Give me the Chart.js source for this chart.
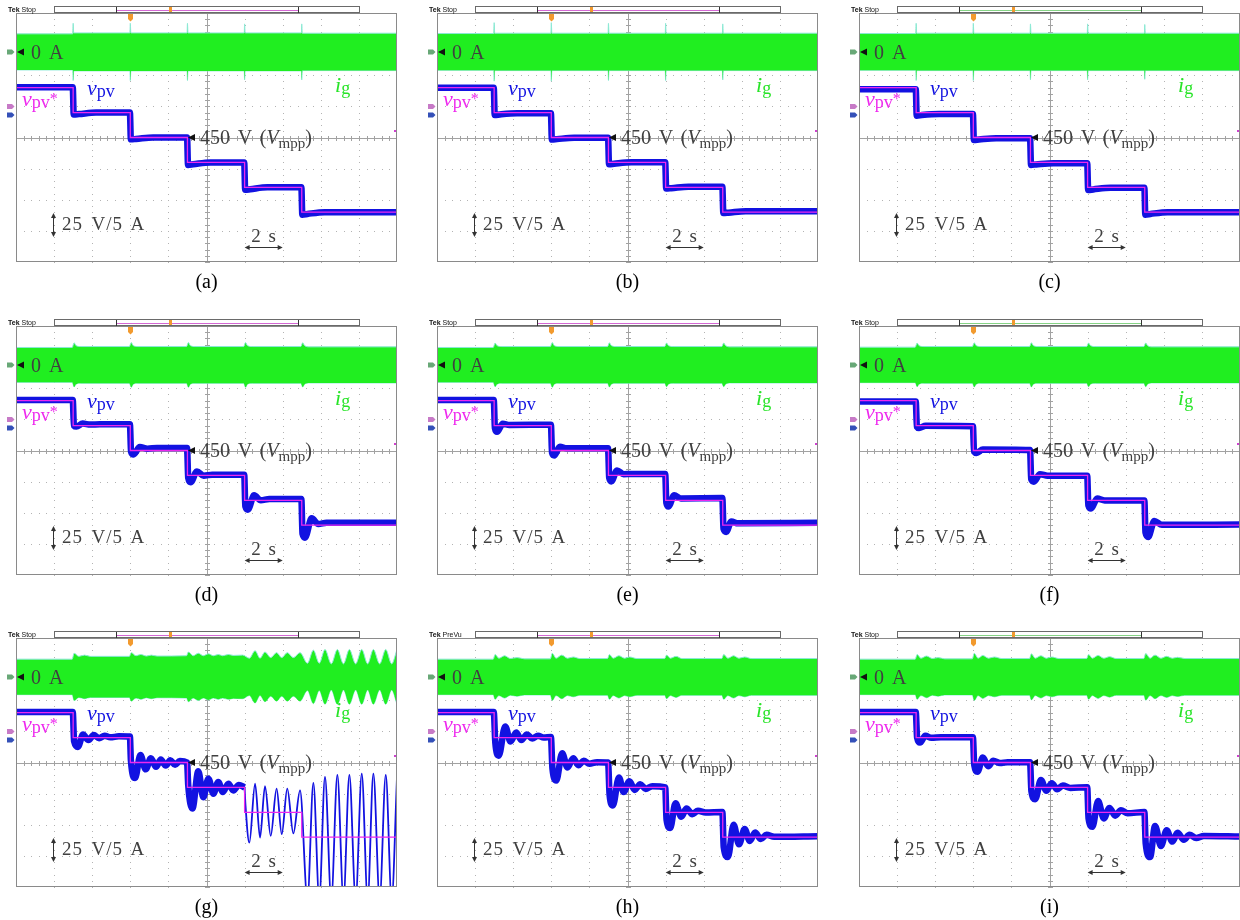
<!DOCTYPE html>
<html><head><meta charset="utf-8">
<script src="https://cdn.jsdelivr.net/npm/chart.js"></script>
<style>
html,body{margin:0;padding:0;background:#fff;}
#wrap{position:relative;width:1240px;height:920px;overflow:hidden;background:#fff;}
.panel{position:absolute;width:395px;height:300px;}
.panel canvas{position:absolute;left:0;top:0;}
.t{position:absolute;white-space:nowrap;font-family:"Liberation Serif","Times New Roman",serif;}
.tek{position:absolute;white-space:nowrap;font-family:"Liberation Sans",Arial,sans-serif;font-size:7px;line-height:7px;color:#111;}
</style></head><body><div id="wrap"></div>
<script>
// ---------------- DATA (time in s, voltage in V, current in A) ----------------
const panelLetters = ['a','b','c','d','e','f','g','h','i'];
const tekStatus = ['Stop','Stop','Stop','Stop','Stop','Stop','Stop','PreVu','Stop'];
const refSteps = [[0,490],[3,470],[6,450],[9,430],[12,410],[15,390],[20,390]];

const vpvA = [[0,490.3],[2.98,490.3],[3.03,468.5],[3.3,468.8],[4.2,470],[5.98,470],[6.03,448.5],[6.3,448.8],[7.2,450],[8.98,450],[9.03,428],[9.3,428.5],[10.2,430],[11.98,430],[12.03,408],[12.3,408.5],[13.2,410],[14.98,410],[15.03,388],[15.3,388.6],[16.2,390],[20,390]];
const vpvB = [[0,489.9],[2.98,489.9],[3.03,468],[3.3,468.5],[4.2,469.4],[5.98,469.4],[6.03,448.3],[6.3,448.7],[7.2,449.8],[8.98,449.8],[9.03,428.5],[9.3,429],[10.2,430.2],[11.98,430.2],[12.03,409],[12.3,409.3],[13.2,410.5],[14.98,410.5],[15.03,389.3],[15.3,389.6],[16.2,390.8],[20,390.8]];
const vpvC = [[0,488.8],[2.98,488.8],[3.03,467.5],[3.3,468],[4.2,468.8],[5.98,468.8],[6.03,448],[6.3,448.4],[7.2,449.4],[8.98,449.4],[9.03,428],[9.3,428.4],[10.2,429.4],[11.98,429.4],[12.03,407.8],[12.3,408.3],[13.2,409.6],[14.98,409.6],[15.03,388],[15.3,388.6],[16.2,390],[20,390]];
const vpvD = [[0,490.5],[2.98,490.5],[3.04,470],[3.17,469.2],[3.5,471.6],[3.9,470.8],[4.4,471],[5.98,471],[6.04,449],[6.17,446.8],[6.5,452.8],[6.9,451.5],[7.4,452],[8.98,452],[9.04,428],[9.17,424.5],[9.5,433.2],[9.85,429.8],[10.3,430.6],[11.98,430.6],[12.04,405],[12.17,402.5],[12.5,414],[12.85,410],[13.3,411],[14.98,411],[15.04,383],[15.17,380],[15.52,395.5],[15.87,391],[16.3,392],[20,392]];
const vpvE = [[0,490.5],[2.98,490.5],[3.04,468],[3.15,465],[3.45,471.5],[3.8,470.5],[5.98,470.7],[6.04,448],[6.15,446],[6.45,453],[6.8,451.8],[8.98,451.9],[9.04,428],[9.15,425.2],[9.45,434],[9.8,431],[10.2,431.2],[11.98,431.2],[12.04,408],[12.15,405],[12.45,414],[12.8,411.5],[14.98,411.8],[15.04,387],[15.18,384.6],[15.45,393],[15.8,391.5],[20,391.9]];
const vpvF = [[0,489.3],[2.98,489.3],[3.04,469],[3.15,468],[3.5,469.8],[5.98,469.5],[6.04,449],[6.17,448],[6.5,450.8],[8.98,450.4],[9.04,427],[9.18,425],[9.5,431],[9.9,429.8],[11.98,429.8],[12.04,406],[12.18,403.4],[12.5,411.4],[12.9,409.9],[14.98,409.9],[15.04,384],[15.18,380.5],[15.5,393.3],[15.9,390.3],[20,390.5]];
const vpvG = [[0,490.5],[2.98,490.5],[3.05,467],[3.25,462.5],[3.52,472.5],[3.8,468],[4.08,472],[4.36,469.5],[4.65,471.5],[4.95,470.2],[5.4,471],[5.98,470.8],[6.03,452],[6.25,437.5],[6.53,456],[6.81,444.5],[7.08,453.5],[7.35,446.5],[7.6,452.5],[7.86,447.5],[8.1,451.8],[8.35,448.2],[8.6,451.2],[8.98,450],[9.04,432],[9.26,413],[9.57,443],[9.83,422],[10.1,437],[10.36,425],[10.62,434.4],[10.85,426.3],[11.15,433],[11.41,427.6],[11.7,432],[12.0,430]];
const vpvGUnstable = [[12.0,430],[12.05,415],[12.25,385.6],[12.55,433],[12.81,389.7],[13.07,431],[13.37,391],[13.68,429],[13.95,392.4],[14.24,429],[14.56,393],[14.91,427.6],[15.3,340],[15.61,433.6],[15.92,340],[16.22,438.5],[16.55,340],[16.87,440],[17.19,340],[17.5,440],[17.83,340],[18.15,441],[18.46,340],[18.76,441],[19.09,340],[19.41,440],[19.72,340],[20,438]];
const vpvH = [[0,490.5],[2.98,490.5],[3.06,466],[3.24,455.5],[3.58,479],[3.86,466.8],[4.16,474],[4.43,468],[4.72,472.5],[5.0,469.3],[5.3,471.5],[5.6,470],[5.98,470.5],[6.06,445],[6.26,435.5],[6.57,457.5],[6.85,446],[7.15,453.5],[7.42,447.8],[7.7,451.5],[8.0,449],[8.4,450.3],[8.98,450],[9.06,424],[9.23,415.5],[9.55,438],[9.8,426.3],[10.1,435],[10.38,428],[10.67,432.5],[10.95,428.8],[11.3,431],[11.98,430],[12.05,404],[12.24,397.3],[12.52,417.3],[12.82,406.5],[13.1,413],[13.4,408.5],[13.7,411.2],[14.1,409.8],[14.98,410.3],[15.05,382],[15.27,374],[15.57,400],[15.85,384.3],[16.15,396.5],[16.42,387],[16.7,393.7],[17.0,388.5],[17.3,392],[17.7,390.3],[20,390.8]];
const vpvI = [[0,490.5],[2.98,490.5],[3.05,470],[3.2,466],[3.48,471.5],[3.8,469.8],[4.3,470.3],[5.98,470.2],[6.05,448],[6.22,442.5],[6.5,454],[6.78,447],[7.05,451.5],[7.4,449.5],[7.8,450.3],[8.98,450.2],[9.05,427],[9.25,420.5],[9.55,436],[9.83,427.3],[10.12,433.3],[10.4,428.5],[10.7,431.5],[11.1,429.6],[11.98,430.2],[12.05,405],[12.25,398.3],[12.55,419],[12.85,405.1],[13.15,413.5],[13.45,407.3],[13.75,411.6],[14.1,409.2],[14.98,410.3],[15.05,385],[15.28,374],[15.54,399],[15.85,383],[16.15,395.5],[16.45,386.5],[16.72,393.5],[17.05,388],[17.35,392],[17.7,389.3],[18.1,391],[20,390.5]];

// grid current envelope amplitude (A), band = +/- amplitude
const igA = [[0,2.9],[2.98,2.9],[3.0,4.6],[3.03,3.05],[5.98,3.05],[6.0,4.6],[6.03,3.05],[8.98,3.05],[9.0,4.6],[9.03,3.05],[11.98,3.05],[12.0,4.5],[12.03,3.05],[14.98,3.05],[15.0,4.5],[15.03,3.0],[20,3.0]];
const igB = [[0,2.95],[2.98,2.95],[3.0,4.7],[3.03,3.0],[5.98,3.0],[6.0,4.7],[6.03,3.0],[8.98,3.0],[9.0,4.6],[9.03,3.0],[11.98,3.0],[12.0,4.6],[12.03,3.0],[14.98,3.0],[15.0,4.5],[15.03,3.0],[20,3.0]];
const igC = [[0,2.95],[2.98,2.95],[3.0,4.6],[3.03,3.0],[5.98,3.0],[6.0,4.6],[6.03,3.0],[8.98,3.0],[9.0,4.5],[9.03,3.0],[11.98,3.0],[12.0,4.5],[12.03,3.0],[14.98,3.0],[15.0,4.4],[15.03,3.0],[20,3.0]];
const igD = [[0,2.8],[2.95,2.8],[3.05,3.55],[3.15,3.1],[3.4,2.95],[5.95,2.95],[6.05,3.6],[6.15,3.1],[6.4,2.95],[8.95,2.95],[9.05,3.6],[9.15,3.1],[9.4,2.95],[11.95,2.95],[12.05,3.6],[12.15,3.1],[12.4,2.95],[14.95,2.95],[15.05,3.55],[15.15,3.1],[15.4,2.9],[20,2.9]];
const igE = [[0,2.8],[2.95,2.8],[3.05,3.5],[3.15,3.1],[3.4,2.95],[5.95,2.95],[6.05,3.6],[6.15,3.1],[6.4,2.95],[8.95,2.95],[9.05,3.55],[9.15,3.1],[9.4,2.95],[11.95,2.95],[12.05,3.5],[12.15,3.1],[12.4,2.95],[14.95,2.95],[15.05,3.5],[15.15,3.1],[15.4,2.9],[20,2.9]];
const igF = [[0,2.85],[2.95,2.85],[3.05,3.5],[3.15,3.1],[3.4,2.95],[5.95,2.95],[6.05,3.55],[6.15,3.1],[6.4,2.95],[8.95,2.95],[9.05,3.55],[9.15,3.1],[9.4,2.95],[11.95,2.95],[12.05,3.5],[12.15,3.1],[12.4,2.95],[14.95,2.95],[15.05,3.5],[15.15,3.1],[15.4,2.9],[20,2.9]];
const igG = [[0,2.85],[2.95,2.85],[3.05,3.8],[3.3,3.3],[3.6,3.5],[3.9,3.3],[5.95,3.3],[6.05,3.9],[6.3,3.4],[6.55,3.6],[6.85,3.35],[7.1,3.5],[7.4,3.35],[8.95,3.4],[9.05,4.0],[9.3,3.4],[9.57,3.8],[9.83,3.4],[10.1,3.7],[10.36,3.4],[10.62,3.6],[10.85,3.4],[11.15,3.6],[11.41,3.45],[11.9,3.5],[12.25,3.0],[12.55,4.2],[12.81,3.0],[13.07,4.0],[13.37,3.1],[13.68,3.9],[13.95,3.1],[14.24,3.9],[14.56,3.1],[14.91,3.9],[15.3,2.2],[15.61,4.3],[15.92,2.2],[16.22,4.4],[16.55,2.1],[16.87,4.4],[17.19,2.1],[17.5,4.4],[17.83,2.1],[18.15,4.4],[18.46,2.1],[18.76,4.4],[19.09,2.1],[19.41,4.4],[19.72,2.1],[20,4.4]];
const igH = [[0,2.85],[2.95,2.85],[3.05,3.6],[3.25,3.0],[3.55,3.4],[3.85,2.95],[4.2,3.1],[4.6,2.9],[5.95,2.9],[6.05,3.8],[6.25,3.0],[6.55,3.5],[6.85,3.0],[7.15,3.2],[7.5,2.95],[8.95,2.95],[9.05,3.6],[9.25,3.0],[9.55,3.4],[9.85,3.0],[10.1,3.2],[10.5,2.95],[11.95,2.95],[12.05,3.5],[12.25,3.0],[12.55,3.3],[12.85,2.95],[14.95,2.95],[15.05,3.6],[15.27,3.0],[15.57,3.4],[15.85,3.0],[16.15,3.2],[16.5,2.95],[20,2.95]];
const igI = [[0,2.85],[2.95,2.85],[3.05,3.6],[3.25,3.0],[3.55,3.35],[3.85,2.95],[4.15,3.1],[4.5,2.9],[5.95,2.9],[6.05,3.8],[6.25,3.0],[6.5,3.45],[6.8,3.0],[7.1,3.2],[7.5,2.95],[8.95,2.95],[9.05,3.7],[9.25,3.0],[9.55,3.4],[9.83,3.0],[10.12,3.2],[10.5,2.95],[11.95,2.95],[12.05,3.6],[12.25,3.0],[12.55,3.45],[12.85,3.0],[13.15,3.25],[13.5,2.95],[14.95,2.95],[15.05,3.75],[15.28,3.0],[15.54,3.5],[15.85,3.0],[16.15,3.3],[16.45,3.0],[16.72,3.15],[17.1,2.95],[20,2.95]];

// ---------------- LAYOUT / STYLE ----------------
const PADL = 14, PADT = 12;
const colL = [16, 437, 859], rowT = [13, 326, 638];
const GREEN = 'rgb(32,238,32)', GREEN_EDGE = 'rgb(140,232,215)';
const BLUE = 'rgb(18,18,225)', MAGENTA = 'rgb(238,40,238)';
const GRAY_TXT = '#404040';
const BAR_PINK = '#d468d4', BAR_GREEN = '#86d486';

const panels = [
  {vpv: vpvA, ig: igA, bar: BAR_PINK}, {vpv: vpvB, ig: igB, bar: BAR_PINK}, {vpv: vpvC, ig: igC, bar: BAR_GREEN},
  {vpv: vpvD, ig: igD, bar: BAR_PINK}, {vpv: vpvE, ig: igE, bar: BAR_PINK}, {vpv: vpvF, ig: igF, bar: BAR_GREEN},
  {vpv: vpvG, thin: vpvGUnstable, ig: igG, bar: BAR_PINK}, {vpv: vpvH, ig: igH, bar: BAR_PINK}, {vpv: vpvI, ig: igI, bar: BAR_GREEN}
];

function tri(ctx, pts) { ctx.beginPath(); ctx.moveTo(pts[0][0], pts[0][1]); for (let i = 1; i < pts.length; i++) ctx.lineTo(pts[i][0], pts[i][1]); ctx.closePath(); ctx.fill(); }

const scopePlugin = {
  id: 'scope',
  beforeDatasetsDraw(chart) {
    const {ctx, chartArea: a, scales: {x, y}} = chart;
    ctx.save();
    ctx.fillStyle = '#b3b3b3';
    for (let i = 1; i < 10; i++) {
      if (i === 5) continue;
      const px = Math.round(x.getPixelForValue(2 * i));
      for (let j = 0; j <= 40; j++) ctx.fillRect(px, Math.round(y.getPixelForValue(350 + j * 5)), 1, 1);
    }
    for (let k = 1; k < 8; k++) {
      if (k === 4) continue;
      const py = Math.round(y.getPixelForValue(350 + 25 * k));
      for (let j = 0; j <= 50; j++) ctx.fillRect(Math.round(x.getPixelForValue(j * 0.4)), py, 1, 1);
    }
    ctx.fillStyle = '#a2a2a2';
    const cx = Math.round(x.getPixelForValue(10)), cy = Math.round(y.getPixelForValue(450));
    ctx.fillRect(cx, a.top, 1, a.bottom - a.top);
    ctx.fillRect(a.left, cy, a.right - a.left, 1);
    for (let j = 0; j <= 40; j++) ctx.fillRect(cx - 2, Math.round(y.getPixelForValue(350 + j * 5)), 5, 1);
    for (let j = 0; j <= 50; j++) ctx.fillRect(Math.round(x.getPixelForValue(j * 0.4)), cy - 2, 1, 5);
    ctx.restore();
  },
  afterDatasetsDraw(chart, args, o) {
    const {ctx, chartArea: a, scales: {x, y, yI}} = chart;
    ctx.save();
    ctx.strokeStyle = '#8a8a8a'; ctx.lineWidth = 1;
    ctx.strokeRect(a.left + 0.5, a.top + 0.5, a.right - a.left - 1, a.bottom - a.top - 1);
    const xa = Math.round(x.getPixelForValue(2)), xb = Math.round(x.getPixelForValue(18));
    const xi1 = Math.round(x.getPixelForValue(5.23)), xi2 = Math.round(x.getPixelForValue(14.79));
    ctx.fillStyle = '#fff'; ctx.fillRect(xa, a.top - 6, xb - xa, 6);
    ctx.strokeStyle = '#6a6a6a'; ctx.strokeRect(xa + 0.5, a.top - 6.5, xb - xa, 6);
    ctx.fillStyle = '#333'; ctx.fillRect(xi1, a.top - 6, 1, 6); ctx.fillRect(xi2, a.top - 6, 1, 6);
    ctx.fillStyle = o.bar; ctx.fillRect(xi1 + 1, a.top - 3, xi2 - xi1 - 1, 1);
    ctx.fillStyle = '#f29a2e';
    const tx = Math.round(x.getPixelForValue(6));
    ctx.fillRect(tx - 2, a.top + 1, 5, 5);
    tri(ctx, [[tx - 2, a.top + 6], [tx + 3, a.top + 6], [tx + 0.5, a.top + 8.5]]);
    const tx2 = Math.round(x.getPixelForValue(8.08));
    ctx.fillRect(tx2 - 1, a.top - 6, 3, 5);
    const mk = (py, col) => { ctx.fillStyle = col; tri(ctx, [[a.left - 9, py - 2.5], [a.left - 4, py - 2.5], [a.left - 1.5, py], [a.left - 4, py + 2.5], [a.left - 9, py + 2.5]]); };
    const y0 = yI.getPixelForValue(0);
    mk(y0, '#68a877');
    mk(y.getPixelForValue(475), '#c77ac7');
    mk(y.getPixelForValue(468), '#3450b8');
    ctx.fillStyle = '#111';
    tri(ctx, [[a.left + 1, y0], [a.left + 8, y0 - 3.5], [a.left + 8, y0 + 3.5]]);
    const y450 = y.getPixelForValue(450);
    tri(ctx, [[a.left + 172, y450], [a.left + 179, y450 - 3.5], [a.left + 179, y450 + 3.5]]);
    ctx.fillStyle = '#d040d0';
    ctx.fillRect(a.right - 3, Math.round(y.getPixelForValue(455)) - 1, 2, 2);
    ctx.fillStyle = '#333'; ctx.strokeStyle = '#333';
    const ax = a.left + 37.5, ay1 = a.top + 200, ay2 = a.top + 224;
    ctx.beginPath(); ctx.moveTo(ax, ay1 + 3); ctx.lineTo(ax, ay2 - 3); ctx.stroke();
    tri(ctx, [[ax, ay1], [ax - 2.5, ay1 + 5], [ax + 2.5, ay1 + 5]]);
    tri(ctx, [[ax, ay2], [ax - 2.5, ay2 - 5], [ax + 2.5, ay2 - 5]]);
    const hx1 = x.getPixelForValue(12), hx2 = x.getPixelForValue(14), hy = a.top + 234.5;
    ctx.beginPath(); ctx.moveTo(hx1 + 3, hy); ctx.lineTo(hx2 - 3, hy); ctx.stroke();
    tri(ctx, [[hx1, hy], [hx1 + 5, hy - 2.5], [hx1 + 5, hy + 2.5]]);
    tri(ctx, [[hx2, hy], [hx2 - 5, hy - 2.5], [hx2 - 5, hy + 2.5]]);
    ctx.restore();
  }
};

const wrap = document.getElementById('wrap');
function addText(div, html, x, base, fs, color, extra) {
  const s = document.createElement('div');
  s.className = 't';
  s.innerHTML = html;
  s.style.fontSize = fs + 'px';
  s.style.lineHeight = fs + 'px';
  s.style.color = color;
  s.style.left = x + 'px';
  s.style.top = (base - 0.8375 * fs) + 'px';
  if (extra) Object.assign(s.style, extra);
  div.appendChild(s);
}
const pts = arr => arr.map(([x, y]) => ({x, y}));

panels.forEach((p, idx) => {
  const L = colL[idx % 3], T = rowT[Math.floor(idx / 3)];
  const div = document.createElement('div');
  div.className = 'panel';
  div.style.left = (L - PADL) + 'px';
  div.style.top = (T - PADT) + 'px';
  const cv = document.createElement('canvas');
  cv.width = 395; cv.height = 262;
  cv.style.width = '395px'; cv.style.height = '262px';
  div.appendChild(cv);
  wrap.appendChild(div);

  const common = {pointRadius: 0, pointHoverRadius: 0, clip: 0};
  // 'order': lower numbers are drawn on top
  const datasets = [
    Object.assign({data: p.ig.map(([t, a]) => ({x: t, y: a})), yAxisID: 'yI', borderColor: GREEN_EDGE, borderWidth: 1, backgroundColor: GREEN, fill: '+1', cubicInterpolationMode: 'monotone', order: 3}, common),
    Object.assign({data: p.ig.map(([t, a]) => ({x: t, y: -a})), yAxisID: 'yI', borderColor: GREEN_EDGE, borderWidth: 1, fill: false, cubicInterpolationMode: 'monotone', order: 3}, common),
    Object.assign({data: pts(p.vpv), yAxisID: 'y', borderColor: BLUE, borderWidth: 6.5, fill: false, cubicInterpolationMode: 'monotone', borderJoinStyle: 'round', order: 2}, common)
  ];
  if (p.thin) datasets.push(Object.assign({data: pts(p.thin), yAxisID: 'y', borderColor: BLUE, borderWidth: 1.8, fill: false, cubicInterpolationMode: 'monotone', order: 2}, common));
  datasets.push(Object.assign({data: pts(refSteps), yAxisID: 'y', borderColor: MAGENTA, borderWidth: 1.3, fill: false, stepped: 'before', order: 0}, common));

  const chart = new Chart(cv, {
    type: 'line',
    data: {datasets},
    options: {
      responsive: false, maintainAspectRatio: false, animation: false, devicePixelRatio: 1, events: [],
      layout: {padding: {left: PADL, top: PADT, right: 0, bottom: 1}},
      scales: {
        x: {type: 'linear', min: 0, max: 20, display: false},
        y: {type: 'linear', min: 350, max: 550, display: false},
        yI: {type: 'linear', min: -33.75, max: 6.25, display: false}
      },
      plugins: {legend: {display: false}, tooltip: {enabled: false}, scope: {bar: p.bar}}
    },
    plugins: [scopePlugin]
  });

  const a = chart.chartArea;
  const y0 = chart.scales.yI.getPixelForValue(0);
  const y450 = chart.scales.y.getPixelForValue(450);
  const sub = (s, fs, dy) => `<span style="font-size:${fs}px;position:relative;top:${dy}px">${s}</span>`;

  const tk = document.createElement('div');
  tk.className = 'tek';
  tk.innerHTML = '<b>Tek</b> ' + tekStatus[idx];
  tk.style.left = (a.left - 8) + 'px';
  tk.style.top = (a.top - 7) + 'px';
  div.appendChild(tk);

  addText(div, '0&nbsp;A', a.left + 15, y0 + 7, 20, GRAY_TXT, {wordSpacing: '3px'});
  addText(div, '450 V (<i>V</i>' + sub('mpp', 15, 4) + ')', a.left + 184, y450 + 6, 20, GRAY_TXT, {wordSpacing: '3px'});
  addText(div, '<i>v</i>' + sub('pv', 18, 2), a.left + 71, a.top + 82, 22, BLUE);
  addText(div, '<i>v</i>' + sub('pv', 18, 2) + sub('*', 16, -2), a.left + 6, a.top + 93, 22, MAGENTA);
  addText(div, '<i>i</i>' + sub('g', 18, 2), a.left + 319, a.top + 79, 22, 'rgb(40,228,40)');
  addText(div, '25 V/5 A', a.left + 46, a.top + 217, 19, GRAY_TXT, {wordSpacing: '3px', letterSpacing: '1px'});
  const cx2 = (chart.scales.x.getPixelForValue(12) + chart.scales.x.getPixelForValue(14)) / 2;
  addText(div, '2 s', cx2, a.top + 229, 19, GRAY_TXT, {wordSpacing: '3px', transform: 'translateX(-50%)'});
  addText(div, '(' + panelLetters[idx] + ')', (a.left + a.right) / 2, a.top + 275, 20, '#000', {transform: 'translateX(-50%)'});
});
</script></body></html>
